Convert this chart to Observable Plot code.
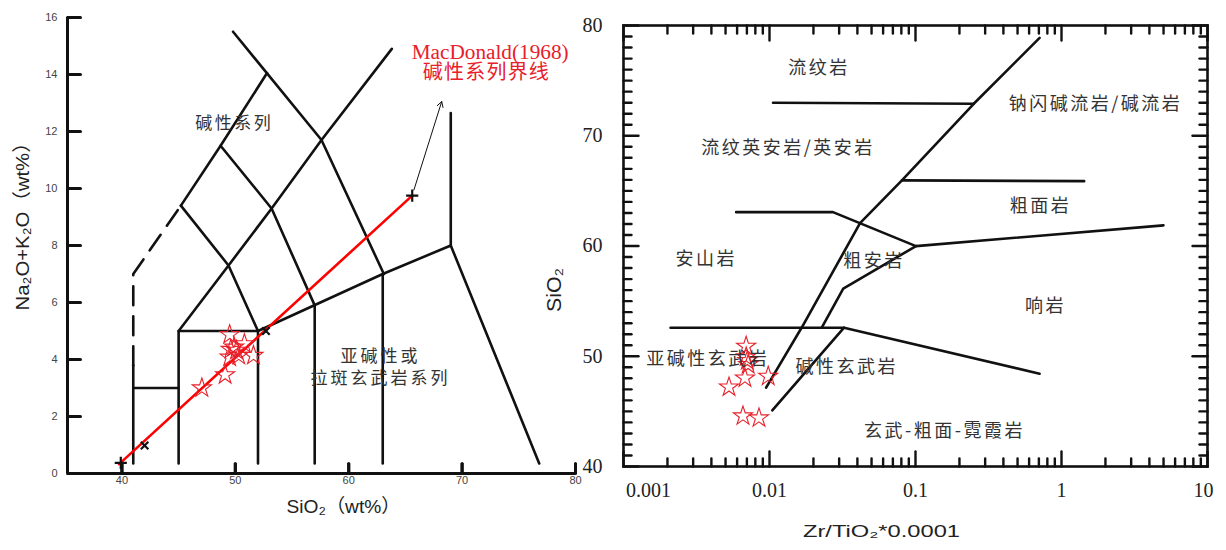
<!DOCTYPE html>
<html><head><meta charset="utf-8">
<script src="https://cdn.jsdelivr.net/npm/d3@7"></script>
<script src="https://cdn.jsdelivr.net/npm/@observablehq/plot@0.6"></script>
<style>
html,body{margin:0;padding:0;background:#fff;}
#wrap{position:relative;width:1226px;height:550px;overflow:hidden;background:#fff;}
#left{position:absolute;left:0;top:0;width:600px;height:550px;}
#right{position:absolute;left:600px;top:0;width:626px;height:550px;}
#left svg,#right svg{overflow:visible;}
</style></head><body><div id="wrap"><div id="left"></div><div id="right"></div></div>
<script>
// ================= LEFT: TAS diagram =================
const tasXDomain = [35.2, 80];
const tasYDomain = [0, 16];
const tasXTicks = [40, 50, 60, 70, 80];
const tasYTicks = [0, 2, 4, 6, 8, 10, 12, 14, 16];
const tasSolidLines = [
  [[41, 0.35], [41, 3.8]],
  [[41, 3], [45, 3]],
  [[45, 0.35], [45, 5], [52, 5], [52, 0.35]],
  [[57, 0.35], [57, 5.9]],
  [[63, 0.35], [63, 7]],
  [[52, 5], [63, 7], [69, 8], [76.8, 0.35]],
  [[69, 8], [69, 12.65]],
  [[45, 5], [49.4, 7.3], [53.2, 9.3], [57.6, 11.7], [63.8, 14.9]],
  [[45.2, 9.4], [48.7, 11.5], [52.8, 14.05]],
  [[45.2, 9.4], [49.4, 7.3], [52, 5]],
  [[48.7, 11.5], [53.2, 9.3], [57, 5.9]],
  [[49.8, 15.5], [57.6, 11.7], [63.1, 7.0]]
];
const tasDashedLine = [[41, 3.8], [41, 7], [45.2, 9.4]];
const macdonaldLine = [[39.75, 0.33], [65.6, 9.75]];
const plusMarks = [[39.9, 0.37], [65.6, 9.75]];
const timesMarks = [[42, 0.98], [52.7, 5.0]];
const arrowSeg = [{x1: 65.75, y1: 9.95, x2: 68.2, y2: 13.05}];
const tasSiO2 = [49.5, 49.6, 50.8, 50.1, 49.5, 51.6, 50.3, 49.9, 49.1, 47.05];
const tasAlk  = [4.87, 4.35, 4.55, 4.32, 4.08, 4.14, 4.14, 4.43, 3.46, 3.0];
const tasLabelText = ["碱性系列", "亚碱性或\n拉斑玄武岩系列"];
const tasLabelX = [49.9, 62.8];
const tasLabelY = [12.33, 3.77];
const redNote = [{text: "MacDonald(1968)\n\u2002碱性系列界线", x: 65.55, y: 14.42}];
const tasXTitle = "SiO₂（wt%）";
const tasYTitle = "Na₂O+K₂O（wt%）";

// ================= RIGHT: Winchester & Floyd =================
const wfXDomain = [0.001, 10];
const wfYDomain = [40, 80];
const wfXTicks = [0.001, 0.01, 0.1, 1, 10];
const wfYTicks = [40, 50, 60, 70, 80];
const wfLines = [
  [[0.708, 78.88], [0.2506, 72.9], [0.0807, 65.95], [0.0417, 62.08], [0.0252, 56.88], [0.0167, 52.65], [0.00948, 47.15]],
  [[0.01057, 72.99], [0.2506, 72.9]],
  [[0.0807, 65.95], [1.43, 65.88]],
  [[0.00591, 63.07], [0.0272, 63.07], [0.1007, 59.99], [4.99, 61.87]],
  [[0.1007, 59.99], [0.032, 56.13], [0.0229, 52.65]],
  [[0.0021, 52.59], [0.0324, 52.59], [0.708, 48.42]],
  [[0.0324, 52.59], [0.01045, 45.1]]
];
const wfZrTi = [0.00692, 0.00692, 0.00714, 0.00705, 0.00679, 0.00528, 0.0098, 0.00658, 0.00847];
const wfSiO2 = [50.9, 49.93, 49.24, 49.6, 48.02, 47.2, 48.18, 44.58, 44.4];
const wfLabelText = ["流纹岩", "钠闪碱流岩/碱流岩", "流纹英安岩/英安岩", "粗面岩", "安山岩", "粗安岩", "响岩", "亚碱性玄武岩", "碱性玄武岩", "玄武-粗面-霓霞岩"];
const wfLabelX = [0.0218, 1.71, 0.0134, 0.718, 0.00369, 0.052, 0.776, 0.00378, 0.0338, 0.158];
const wfLabelY = [76.1, 72.84, 68.88, 63.6, 58.76, 58.63, 54.52, 49.69, 49.0, 43.2];
const wfXTitle = "Zr/TiO₂*0.0001";
const wfYTitle = "SiO₂";

// ---------- helpers ----------
const toRows = (lines) => lines.flatMap((pts, i) => pts.map(([x, y]) => ({id: i, x, y})));
const CJK = "Noto Sans CJK SC";
const INK = "#111";
const RED = "#e8202a";

// ---------- left plot ----------
const L = {width: 600, height: 550, marginLeft: 67, marginRight: 25, marginTop: 17, marginBottom: 77};
const LW = L.width - L.marginLeft - L.marginRight;
const LH = L.height - L.marginTop - L.marginBottom;
const lxPerPx = (tasXDomain[1] - tasXDomain[0]) / LW;   // data units per pixel (layout only)
const lyPerPx = (tasYDomain[1] - tasYDomain[0]) / LH;
const [lx0] = tasXDomain, [ly0] = tasYDomain;
const tasTickSegs = [
  ...tasYTicks.map(v => [[lx0, v], [lx0 + 13 * lxPerPx, v]]),
  ...tasXTicks.map(v => [[v, ly0], [v, ly0 + 10 * lyPerPx]])
];
const tasStars = tasSiO2.map((x, i) => ({x, y: tasAlk[i]}));
const tasLabels = tasLabelText.map((t, i) => ({text: t, x: tasLabelX[i], y: tasLabelY[i]}));
const left = Plot.plot({
  ...L,
  x: {domain: tasXDomain, label: null},
  y: {domain: tasYDomain, label: null},
  style: {overflow: "visible"},
  marks: [
    // axis lines and inward ticks
    Plot.ruleX([lx0], {stroke: INK, strokeWidth: 3}),
    Plot.ruleY([ly0], {stroke: INK, strokeWidth: 3}),
    Plot.ruleY(tasYTicks, {y: d => d, x1: lx0, x2: lx0 + 13 * lxPerPx, stroke: INK, strokeWidth: 3}),
    Plot.ruleX(tasXTicks, {x: d => d, y1: ly0, y2: ly0 + 10 * lyPerPx, stroke: INK, strokeWidth: 3}),
    Plot.line(toRows(tasTickSegs), {x: "x", y: "y", z: "id", stroke: INK, strokeWidth: 3}),
    Plot.line(toRows(tasSolidLines), {x: "x", y: "y", z: "id", stroke: INK, strokeWidth: 2.6}),
    Plot.line(tasDashedLine.map(([x, y]) => ({x, y})), {x: "x", y: "y", stroke: INK, strokeWidth: 2.6, strokeDasharray: "19,11"}),
    Plot.line(macdonaldLine.map(([x, y]) => ({x, y})), {x: "x", y: "y", stroke: "red", strokeWidth: 2.6}),
    Plot.arrow(arrowSeg, {x1: "x1", y1: "y1", x2: "x2", y2: "y2", stroke: INK, strokeWidth: 1, headLength: 9}),
    Plot.dot(plusMarks.map(([x, y]) => ({x, y})), {x: "x", y: "y", symbol: "plus", r: 4, stroke: INK, strokeWidth: 2.2}),
    Plot.dot(timesMarks.map(([x, y]) => ({x, y})), {x: "x", y: "y", symbol: "times", r: 3.5, stroke: INK, strokeWidth: 2.2}),
    Plot.dot(tasStars, {x: "x", y: "y", symbol: "star", r: 6, stroke: RED, strokeWidth: 1.1, fill: "none"}),
    Plot.axisY({anchor: "left", ticks: tasYTicks, tickSize: 0, tickPadding: 10, fontSize: 11, fill: "#444", fontFamily: "Liberation Sans", label: null}),
    Plot.axisX({anchor: "bottom", ticks: tasXTicks, tickSize: 0, tickPadding: 3, fontSize: 11, fill: "#444", fontFamily: "Liberation Sans", label: null}),
    Plot.text(tasLabels, {x: "x", y: "y", text: "text", fontSize: 17, lineHeight: 1.3, fontFamily: CJK, fill: "#333"}),
    Plot.text(redNote, {x: "x", y: "y", text: "text", textAnchor: "start", fontSize: 20, lineHeight: 1.0, fontFamily: "Liberation Serif, Noto Sans CJK SC", fill: RED}),
    Plot.text([tasYTitle], {text: d => d, frameAnchor: "left", textAnchor: "middle", rotate: -90, dx: -45, dy: -24, fontSize: 19, fontFamily: "Liberation Sans, Noto Sans CJK SC", fill: "#222"}),
    Plot.text([tasXTitle], {text: d => d, frameAnchor: "bottom", dx: 22, dy: 39, fontSize: 19, fontFamily: "Liberation Sans, Noto Sans CJK SC", fill: "#222"})
  ]
});
document.getElementById("left").appendChild(left);

// ---------- right plot ----------
const R = {width: 626, height: 550, marginLeft: 23, marginRight: 19, marginTop: 25, marginBottom: 84};
const RW = R.width - R.marginLeft - R.marginRight;
const RH = R.height - R.marginTop - R.marginBottom;
const rDecPerPx = Math.log10(wfXDomain[1] / wfXDomain[0]) / RW;
const ryPerPx = (wfYDomain[1] - wfYDomain[0]) / RH;
const decades = [0.001, 0.01, 0.1, 1];
const wfXMinor = decades.flatMap(d => d3.range(2, 10).map(k => +(d * k).toPrecision(3)));
const wfYMinor = d3.range(wfYDomain[0], wfYDomain[1] + 1).filter(v => v % 10 !== 0);
const MAJ = 15, MIN = 8;
const [xLo, xHi] = wfXDomain, [yLo, yHi] = wfYDomain;
const fx = px => Math.pow(10, px * rDecPerPx);
const xTickSeg = (v, len) => [[[v, yLo], [v, yLo + len * ryPerPx]], [[v, yHi - len * ryPerPx], [v, yHi]]];
const yTickSeg = (v, len) => [[[xLo, v], [xLo * fx(len), v]], [[xHi / fx(len), v], [xHi, v]]];
const wfTickSegs = [
  ...wfXTicks.flatMap(v => xTickSeg(v, MAJ)),
  ...wfXMinor.flatMap(v => xTickSeg(v, MIN)),
  ...wfYTicks.flatMap(v => yTickSeg(v, MAJ)),
  ...wfYMinor.flatMap(v => yTickSeg(v, MIN))
];
const wfStars = wfZrTi.map((x, i) => ({x, y: wfSiO2[i]}));
const wfLabels = wfLabelText.map((t, i) => ({text: t, x: wfLabelX[i], y: wfLabelY[i]}));
const serif = "Liberation Serif";
const lbl = {tickSize: 0, fontSize: 20, fontFamily: serif, fill: "#222", label: null, tickFormat: d => String(d)};
const right = Plot.plot({
  ...R,
  x: {type: "log", domain: wfXDomain, label: null},
  y: {domain: wfYDomain, label: null},
  style: {overflow: "visible"},
  marks: [
    // frame and inward ticks on all four sides
    Plot.frame({stroke: INK, strokeWidth: 2.6}),
    Plot.line(toRows(wfTickSegs), {x: "x", y: "y", z: "id", stroke: INK, strokeWidth: 2.4}),
    Plot.axisX({anchor: "bottom", ticks: wfXTicks.slice(1, 4), tickPadding: 16, ...lbl}),
    Plot.axisX({anchor: "bottom", ticks: wfXTicks.slice(0, 1), tickPadding: 16, dx: 25, ...lbl}),
    Plot.axisX({anchor: "bottom", ticks: wfXTicks.slice(4), tickPadding: 16, dx: -4, ...lbl}),
    Plot.axisY({anchor: "left", ticks: wfYTicks, tickPadding: 21, ...lbl}),
    Plot.line(toRows(wfLines), {x: "x", y: "y", z: "id", stroke: INK, strokeWidth: 2.6}),
    Plot.dot(wfStars, {x: "x", y: "y", symbol: "star", r: 6, stroke: RED, strokeWidth: 1.1, fill: "none"}),
    Plot.text(wfLabels, {x: "x", y: "y", text: "text", fontSize: 18, fontFamily: CJK, fill: "#333"}),
    Plot.text([wfYTitle], {text: d => d, frameAnchor: "left", textAnchor: "middle", rotate: -90, dx: -69, dy: 44, fontSize: 20, fontFamily: "Liberation Sans", fill: "#222"}),
    Plot.text([wfXTitle], {text: d => d, frameAnchor: "bottom", dx: -34, dy: 70, fontSize: 16, fontFamily: "Liberation Sans, Liberation Serif", fill: "#222"})
  ]
});
document.getElementById("right").appendChild(right);

// the reference's titles are drawn slightly stretched; match their lengths
const stretchTo = new Map([[tasYTitle, 178], [tasXTitle, 114], [wfXTitle, 157], [wfYTitle, 44], ["MacDonald(1968)", 157]]);
document.querySelectorAll("svg text, svg tspan").forEach(t => {
  if (t.children.length) return;
  const s = t.textContent.trim();
  if (stretchTo.has(s)) {
    t.setAttribute("textLength", stretchTo.get(s));
    t.setAttribute("lengthAdjust", "spacingAndGlyphs");
    return;
  }
  if (/[\u4e00-\u9fff]/.test(s) && !/[A-Za-z]/.test(s)) {
    t.style.letterSpacing = s.includes("界线") ? "1.2px" : (t.tagName === "tspan" ? "3px" : "2.5px");
  }
});
</script></body></html>
